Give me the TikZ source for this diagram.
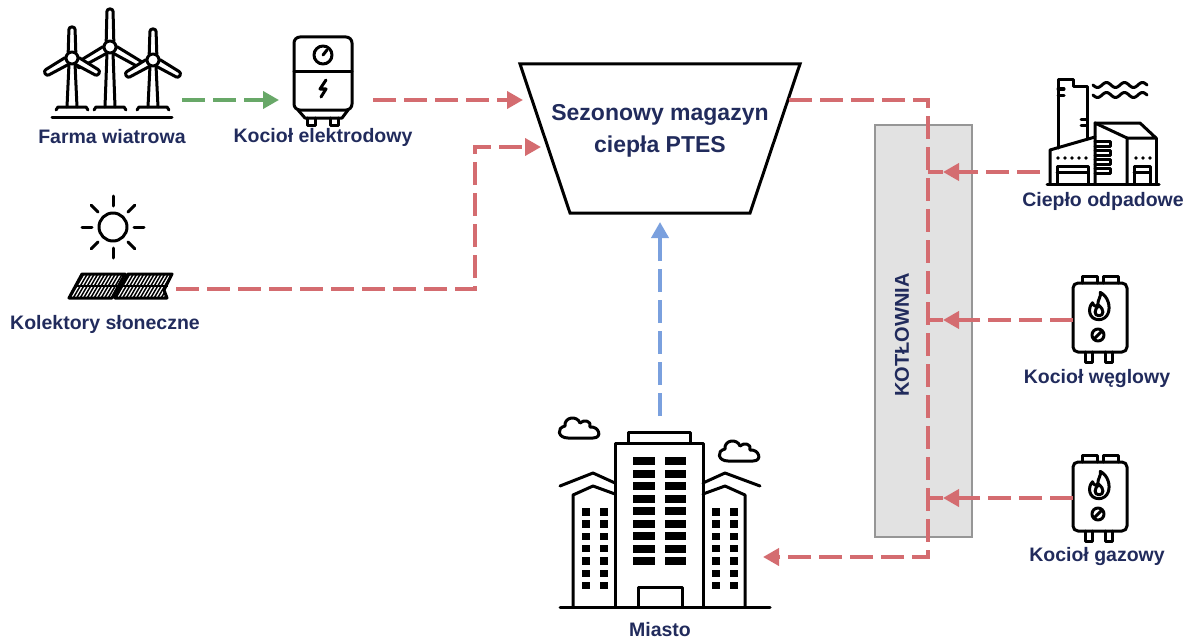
\documentclass[tikz,border=0pt]{standalone}
\usepackage{fontspec}
\setmainfont{Liberation Sans}
\usetikzlibrary{arrows.meta}

\definecolor{labelnavy}{RGB}{33,43,92}
\definecolor{heatred}{RGB}{212,108,112}
\definecolor{powergreen}{RGB}{104,168,104}
\definecolor{coldblue}{RGB}{122,160,222}
\definecolor{roomgray}{RGB}{226,226,226}
\definecolor{roomedge}{RGB}{150,150,150}

\tikzset{
  icon/.style={line width=3pt, line join=round, line cap=round, draw=black},
  flowline/.style={line width=3.8pt, dash pattern=on 23pt off 8pt},
  tipped/.style={-{Triangle[length=16pt,width=17pt]}},
  heat/.style={flowline, draw=heatred},
  power/.style={flowline, draw=powergreen},
  cold/.style={flowline, draw=coldblue},
  joint/.style={line width=3.8pt, draw=heatred},
  lbl/.style={font=\bfseries\fontsize{19.5}{22}\selectfont, text=labelnavy, inner sep=0pt},
  title/.style={font=\bfseries\fontsize{23}{32}\selectfont, text=labelnavy, align=center, inner sep=0pt},
}

% wind turbine: hub x, hub y, blade length
\newcommand{\windturbine}[3]{%
  \begin{scope}[shift={(#1,#2)}]
    \draw[icon] (-3,5.5) -- (-5,{107-#2}) (3,5.5) -- (5,{107-#2});
    \foreach \r in {0,120,240}
      \draw[icon,fill=white,rotate=\r,rounded corners=2.5pt] (-3.8,-6) -- (-3,-#3) -- (3,-#3) -- (3.8,-6);
    \draw[icon,fill=white] (0,0) circle (6pt);
    \draw[icon] (-16,{110-#2}) -- (-14,{107-#2}) -- (14,{107-#2}) -- (16,{110-#2});
  \end{scope}}

% wall-mounted boiler with flame, centred on the casing
\newcommand{\fireboiler}[2]{%
  \begin{scope}[shift={(#1,#2)}]
    \draw[icon] (-18,-35) -- (-18,-42) -- (-3,-42) -- (-3,-35);
    \draw[icon] (3,-35) -- (3,-42) -- (18,-42) -- (18,-35);
    \draw[icon,rounded corners=5pt] (-27,-35) rectangle (27,34);
    \draw[icon] (-15,34) -- (-15,44) -- (-8,44) -- (-8,34);
    \draw[icon] (5,34) -- (5,44) -- (12,44) -- (12,34);
    % flame
    \begin{scope}[shift={(-1,-10)},scale=1.3]
      \draw[icon] (0,9) .. controls (-8,9) and (-9,0) .. (-5,-4)
        .. controls (-4,-1) and (-2,-1) .. (-1,-2)
        .. controls (-1,-7) and (2,-9) .. (1,-12)
        .. controls (7,-9) and (9,-1) .. (7,4)
        .. controls (6,7) and (3,9) .. (0,9);
      \draw[icon] (0,6) .. controls (-4,6) and (-4,1) .. (0,-2)
        .. controls (4,1) and (4,6) .. (0,6);
    \end{scope}
    % valve
    \draw[icon] (-2,17) circle (6pt);
    \draw[icon] (-5.5,20.5) -- (1.5,13.5);
  \end{scope}}

% cloud outline centred at the given point
\newcommand{\cloudicon}[2]{%
  \draw[icon,shift={(#1,#2)}] (-12,10) .. controls (-22,10) and (-24,0) .. (-15,-2)
    .. controls (-16,-11) and (-3,-13) .. (0,-5)
    .. controls (4,-9) and (12,-7) .. (10,-1)
    .. controls (19,-2) and (23,10) .. (13,10) -- cycle;}

\begin{document}
\begin{tikzpicture}[x=1pt,y=-1pt]
\useasboundingbox (0,0) rectangle (1189,642);

% ---------- wind farm ----------
\windturbine{110}{47}{38}
\windturbine{72}{58}{31}
\windturbine{153}{60}{31}
\draw[icon] (52,117) -- (172,117);
\node[lbl] (farmlbl) at (112,137) {Farma wiatrowa};

% ---------- electrode boiler ----------
\draw[icon,rounded corners=6pt] (294,37) rectangle (352,110);
\draw[icon] (294,72) -- (352,72);
\draw[icon] (323,55) circle (9pt);
\draw[icon] (323,55) -- (327,50);
\draw[icon] (326,80) -- (320,89) -- (326,89) -- (321,97);
\draw[icon] (298,110) -- (305,118) -- (342,118) -- (348,110);
\draw[icon] (307,118) -- (307,125) -- (315,125) -- (315,118);
\draw[icon] (330,118) -- (330,125) -- (338,125) -- (338,118);
\node[lbl] (eboilerlbl) at (323,137) {Kocioł elektrodowy};

% ---------- solar collectors ----------
\draw[icon] (113,227) circle (14pt);
\foreach \a in {0,45,...,315}
  \draw[icon,shift={(113,227)}] (\a:21) -- (\a:31);
\begin{scope}
  \clip (69,298) -- (82,274) -- (125,274) -- (112,298) -- cycle;
  \foreach \k in {0,...,17}
    \draw[line width=1.5pt] ({58+3.5*\k},300) -- ({75.7+3.5*\k},270);
\end{scope}
\begin{scope}
  \clip (115,298) -- (128,274) -- (172,274) -- (164,290) -- (167,298) -- cycle;
  \foreach \k in {0,...,18}
    \draw[line width=1.5pt] ({104+3.5*\k},300) -- ({121.7+3.5*\k},270);
\end{scope}
\draw[icon] (69,298) -- (82,274) -- (125,274) -- (112,298) -- cycle;
\draw[icon] (115,298) -- (128,274) -- (172,274) -- (164,290) -- (167,298) -- cycle;
\draw[line width=1.5pt] (75,286) -- (118,286) (121,286) -- (168,286);
\node[lbl] (solarlbl) at (105,324) {Kolektory słoneczne};

% ---------- seasonal storage ----------
\draw[line width=3pt, line join=miter] (520,64) -- (800,64) -- (750,213) -- (570,213) -- cycle;
\node[title] (ptes) at (660,131) {Sezonowy magazyn\\ciepła PTES};

% ---------- boiler room ----------
\draw[fill=roomgray, draw=roomedge, line width=1.2pt] (875,125) rectangle (972,537);
\node[font=\bfseries\fontsize{20}{22}\selectfont, text=labelnavy, rotate=90, inner sep=0pt]
  (boilerroom) at (902,335) {KOTŁOWNIA};

% ---------- waste heat plant ----------
\begin{scope}[icon]
  \draw (1058,148) -- (1058,80) -- (1073,80) -- (1073,87) -- (1087,87) -- (1087,139);
  \draw (1058,89) -- (1064,89) (1058,95) -- (1064,95);
  \draw (1087,119) -- (1081,119) (1087,125) -- (1081,125);
  \draw (1050,184) -- (1050,150) -- (1095,137);
  \draw (1095,184) -- (1095,123) -- (1127,138) -- (1127,184);
  \draw (1095,123) -- (1140,123) -- (1156,138) -- (1127,138);
  \draw (1156,138) -- (1156,184);
  \draw (1047,184) -- (1159,184);
  \foreach \y in {141,150,159,168}
    \draw (1095,\y) -- (1110,\y) -- (1110,{\y+5}) -- (1095,{\y+5});
  \draw (1057,184) -- (1057,166) -- (1088,166) -- (1088,184) (1057,172) -- (1088,172);
  \draw (1134,184) -- (1134,166) -- (1150,166) -- (1150,184) (1134,172) -- (1150,172);
  \draw plot[domain=1093:1147, samples=60] (\x,{85+2.5*sin((\x-1093)*20)});
  \draw plot[domain=1093:1147, samples=60] (\x,{95+2.5*sin((\x-1093)*20)});
\end{scope}
\foreach \x in {1058,1065,1072,1079,1086} \fill (\x,158) circle (1.8pt);
\foreach \x in {1136,1143,1150} \fill (\x,158) circle (1.8pt);
\node[lbl] (wastelbl) at (1103,201) {Ciepło odpadowe};

% ---------- coal and gas boilers ----------
\fireboiler{1100}{318}
\node[lbl] (coallbl) at (1097,378) {Kocioł węglowy};
\fireboiler{1100}{497}
\node[lbl] (gaslbl) at (1097,556) {Kocioł gazowy};

% ---------- city ----------
\begin{scope}[icon]
  \draw (615,607) -- (615,443) -- (703,443) -- (703,607);
  \draw (628,443) -- (628,432) -- (690,432) -- (690,443);
  \draw (638,607) -- (638,587) -- (682,587) -- (682,607);
  \draw (573,607) -- (573,495) -- (593,486) -- (615,494);
  \draw (560,486) -- (593,473) -- (615,483);
  \draw (745,607) -- (745,495) -- (725,486) -- (703,494);
  \draw (760,486) -- (725,473) -- (703,483);
  \draw (560,607) -- (770,607);
\end{scope}
\foreach \i in {0,...,8} {
  \fill (633,{457+12.5*\i}) rectangle (655,{465+12.5*\i});
  \fill (665,{457+12.5*\i}) rectangle (686,{465+12.5*\i});
}
\foreach \i in {0,...,6} {
  \fill (582,{508+12.3*\i}) rectangle (590,{515.5+12.3*\i});
  \fill (600,{508+12.3*\i}) rectangle (608,{515.5+12.3*\i});
  \fill (712,{508+12.3*\i}) rectangle (720,{515.5+12.3*\i});
  \fill (730,{508+12.3*\i}) rectangle (738,{515.5+12.3*\i});
}
\cloudicon{580}{428}
\cloudicon{740}{451}
\node[lbl] (citylbl) at (660,630) {Miasto};

% ---------- connection points ----------
\coordinate (farmout) at (182,100);
\coordinate (eboilerin) at (279,100);
\coordinate (eboilerout) at (373,100);
\coordinate (ptesinA) at (523,100);
\coordinate (solarout) at (176,289);
\coordinate (solarbend) at (475,289);
\coordinate (ptesinB) at (541,147);
\coordinate (cityout) at (660,416);
\coordinate (ptesbase) at (660,222);
\coordinate (ptesout) at (789,100);
\coordinate (mainfoot) at (928,557);
\coordinate (cityin) at (763,557);
\coordinate (wasteout) at (1040,172);
\coordinate (wastetip) at (943,172);
\coordinate (wastejoin) at (928,172);
\coordinate (coalout) at (1073,320);
\coordinate (coaltip) at (943,320);
\coordinate (coaljoin) at (928,320);
\coordinate (gasout) at (1073,498);
\coordinate (gastip) at (943,498);
\coordinate (gasjoin) at (928,498);

% ---------- flows ----------
\draw[power,tipped] (farmout) -- (eboilerin);
\draw[heat,tipped] (eboilerout) -- (ptesinA);
\draw[heat,tipped] (solarout) -- (solarbend) |- (ptesinB);
\draw[cold,tipped] (cityout) -- (ptesbase);
\draw[heat,tipped] (ptesout) -| (mainfoot) -- (cityin);
\draw[heat,tipped] (wasteout) -- (wastetip);
\draw[joint] (wastetip) -- (wastejoin);
\draw[heat,tipped] (coalout) -- (coaltip);
\draw[joint] (coaltip) -- (coaljoin);
\draw[heat,tipped] (gasout) -- (gastip);
\draw[joint] (gastip) -- (gasjoin);
\end{tikzpicture}
\end{document}
